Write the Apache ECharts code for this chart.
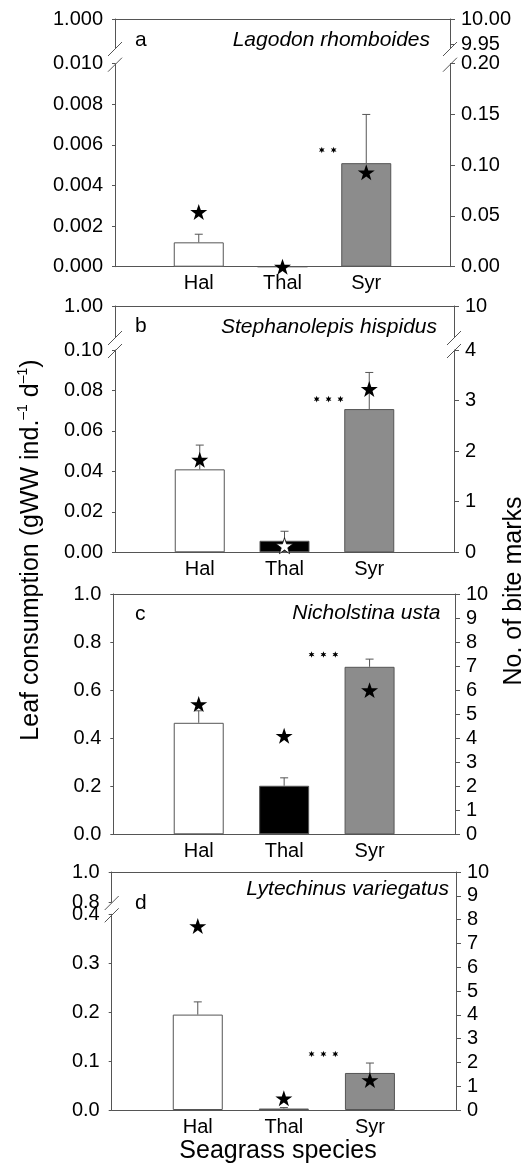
<!DOCTYPE html>
<html><head><meta charset="utf-8">
<script src="https://cdn.jsdelivr.net/npm/echarts@6/dist/echarts.min.js"></script>
<style>html,body{margin:0;padding:0;background:#fff}#c{width:527px;height:1164px}</style>
</head><body><div id="c"></div>
<script>
// ---------------- data ----------------
const categories = ['Hal', 'Thal', 'Syr'];
const panelLetters = ['a', 'b', 'c', 'd'];
const speciesNames = ['Lagodon rhomboides', 'Stephanolepis hispidus', 'Nicholstina usta', 'Lytechinus variegatus'];
// leaf consumption (gWW ind.-1 d-1): mean and mean+SE
const consA = [0.0012, 0, 0.0051];
const errA  = [0.0016, 0, 0.0075];
const consB = [0.041, 0.0057, 0.0708];
const errB  = [0.053, 0.0104, 0.0889];
const consC = [0.464, 0.202, 0.697];
const errC  = [0.514, 0.235, 0.729];
const consD = [0.195, 0.003, 0.0757];
const errD  = [0.221, 0.005, 0.096];
// no. of bite marks (right axis)
const biteA = [0.054, 0, 0.093];
const biteB = [1.83, 0.13, 3.23];
const biteC = [5.42, 4.1, 6.0];
const biteD = [7.73, 0.49, 1.26];
// significance marks [x position in category units, y in consumption units]
const sigCounts = [2, 3, 3, 3];
const sigPosA = [2.54, 0.00575];
const sigPosB = [2.52, 0.0757];
const sigPosC = [2.46, 0.748];
const sigPosD = [2.46, 0.1145];
// axis tick labels
const leftTicksLowA = [0, 0.010, 0.002];   // min, max, interval
const rightTicksLowA = [0, 0.20, 0.05];
const leftUpperA = [1.000];
const rightUpperA = [9.95, 10.00];
const leftTicksLowB = [0, 0.10, 0.02];
const rightTicksLowB = [0, 4, 1];
const leftUpperB = [1.00];
const rightUpperB = [10];
const leftTicksC = [0, 1.0, 0.2];
const rightTicksC = [0, 10, 1];
const leftTicksLowD = [0, 0.4, 0.1];
const leftUpperD = [0.8, 1.0];
const rightTicksD = [0, 10, 1];

// ---------------- styles / layout ----------------
const AX = '#555';
const FONT = '"Liberation Sans", Arial, Helvetica, sans-serif';
const barColors = ['#ffffff', '#000000', '#8c8c8c'];
const starColors = [['#000','#000','#000'], ['#000','#fff','#000'], ['#000','#000','#000'], ['#000','#000','#000']];
const STAR = 'path://M50,0 L61.8,35.1 L98.9,35.1 L68.9,57.6 L79.4,91.9 L50,70.6 L20.6,91.9 L31.1,57.6 L1.1,35.1 L38.2,35.1 Z';
function asteriskPath(n) {
  let d = '';
  for (let s = 0; s < n; s++) {
    const cx = s * 3.6;
    for (let k = 0; k < 12; k++) {
      const a = (-90 + k * 30) * Math.PI / 180;
      const r = k % 2 ? 0.45 : 1;
      d += (k === 0 ? 'M' : 'L') + (cx + r * Math.cos(a)).toFixed(3) + ',' + (r * Math.sin(a)).toFixed(3) + ' ';
    }
    d += 'Z ';
  }
  return 'path://' + d;
}

const panels = [
  {xl:115, xr:450, top:19, uBot:48, lTop:63.7, bot:266.7, left:leftTicksLowA, right:rightTicksLowA, lUp:leftUpperA, rUp:rightUpperA, lUpRange:[0,1], rUpRange:[9.942,10], lDec:3, rDec:2, cons:consA, err:errA, bite:biteA, sig:sigPosA, letterY:40, specX:430, specY:40},
  {xl:115, xr:454, top:306, uBot:337, lTop:350, bot:552.3, left:leftTicksLowB, right:rightTicksLowB, lUp:leftUpperB, rUp:rightUpperB, lUpRange:[0,1], rUpRange:[0,10], lDec:2, rDec:0, cons:consB, err:errB, bite:biteB, sig:sigPosB, letterY:326.7, specX:437, specY:326.7},
  {xl:113.3, xr:455, top:594, bot:834.3, left:leftTicksC, right:rightTicksC, lDec:1, rDec:0, cons:consC, err:errC, bite:biteC, sig:sigPosC, letterY:614, specX:440.5, specY:613.3},
  {xl:111.7, xr:456, top:872, uBot:902, lTop:914.3, bot:1110, left:leftTicksLowD, right:rightTicksD, lUp:leftUpperD, lUpRange:[0.8,1.0], rightFull:true, lDec:1, rDec:0, cons:consD, err:errD, bite:biteD, sig:sigPosD, letterY:903, specX:449, specY:889}
];

const grids = [], xAxes = [], yAxes = [], series = [], graphics = [];
function addGrid(xl, xr, t, b) { grids.push({left:xl, top:t, width:xr-xl, height:b-t}); return grids.length - 1; }
function addX(g, pos, showLine, showLabels) {
  xAxes.push({gridIndex:g, type:'value', min:0, max:4, position:pos,
    splitLine:{show:false}, axisTick:{show:false},
    axisLine:{show:showLine, onZero:false, lineStyle:{color:AX, width:1}},
    axisLabel: showLabels ? {show:true, customValues:[1,2,3], formatter:v => categories[v-1] || '', fontSize:20, fontFamily:FONT, color:'#000', margin:7} : {show:false}
  });
  return xAxes.length - 1;
}
function addY(g, pos, min, max, interval, dec, custom) {
  const o = {gridIndex:g, type:'value', position:pos, min:min, max:max,
    splitLine:{show:false},
    axisLine:{show:true, onZero:false, lineStyle:{color:AX, width:1}},
    axisTick:{show:true, length: pos === 'left' ? 3 : 5, lineStyle:{color:AX}},
    axisLabel:{fontSize:20, fontFamily:FONT, color:'#000', margin: pos === 'left' ? 12 : 11, formatter:v => Number(v).toFixed(dec)}
  };
  if (interval != null) o.interval = interval;
  if (custom) { o.axisLabel.customValues = custom; o.axisTick.customValues = custom; }
  yAxes.push(o); return yAxes.length - 1;
}
function slash(x, y) {
  graphics.push({type:'line', shape:{x1:x-7, y1:y+7, x2:x+7, y2:y-7}, style:{stroke:AX, lineWidth:1}, z:10});
}

panels.forEach((p, pi) => {
  const hasBreak = p.uBot != null;
  const lowTop = hasBreak ? p.lTop : p.top;
  const gLow = addGrid(p.xl, p.xr, lowTop, p.bot);
  const xLow = addX(gLow, 'bottom', true, true);
  const yL = addY(gLow, 'left', p.left[0], p.left[1], p.left[2], p.lDec);
  let xStar = xLow, yStar;
  if (!hasBreak) {
    addX(gLow, 'top', true, false);
    yStar = addY(gLow, 'right', p.right[0], p.right[1], p.right[2], p.rDec);
  } else {
    const gUp = addGrid(p.xl, p.xr, p.top, p.uBot);
    addX(gUp, 'top', true, false);
    addY(gUp, 'left', p.lUpRange[0], p.lUpRange[1], null, p.lDec, p.lUp);
    slash(p.xl, p.uBot + 1); slash(p.xl, p.lTop + 1);
    if (p.rightFull) {
      const gFull = addGrid(p.xl, p.xr, p.top, p.bot);
      xStar = addX(gFull, 'bottom', false, false);
      yStar = addY(gFull, 'right', p.right[0], p.right[1], p.right[2], p.rDec);
    } else {
      addY(gUp, 'right', p.rUpRange[0], p.rUpRange[1], null, p.rDec, p.rUp);
      yStar = addY(gLow, 'right', p.right[0], p.right[1], p.right[2], p.rDec);
      slash(p.xr, p.uBot + 1); slash(p.xr, p.lTop + 1);
    }
  }
  // bars
  series.push({type:'bar', xAxisIndex:xLow, yAxisIndex:yL, barWidth:50, z:2,
    data: categories.map((c, i) => ({value:[i+1, p.cons[i]], itemStyle:{color:barColors[i], borderColor:AX, borderWidth:1}})),
    emphasis:{disabled:true}, animation:false});
  // error bars (upper only)
  series.push({type:'custom', xAxisIndex:xLow, yAxisIndex:yL, z:3, animation:false,
    data: categories.map((c, i) => [i+1, p.cons[i], p.err[i]]).filter(d => d[2] > d[1]),
    renderItem: (params, api) => {
      const x = api.value(0), v = api.value(1), e = api.value(2);
      const p0 = api.coord([x, v]), p1 = api.coord([x, e]);
      return {type:'group', children:[
        {type:'line', shape:{x1:p0[0], y1:p0[1], x2:p1[0], y2:p1[1]}, style:{stroke:AX, lineWidth:1}},
        {type:'line', shape:{x1:p1[0]-4, y1:p1[1], x2:p1[0]+4, y2:p1[1]}, style:{stroke:AX, lineWidth:1}}
      ]};
    }});
  // bite marks stars
  series.push({type:'scatter', xAxisIndex:xStar, yAxisIndex:yStar, z:5, clip:false, animation:false,
    symbol:STAR, symbolSize:17, symbolKeepAspect:true,
    data: categories.map((c, i) => ({value:[i+1, p.bite[i]], itemStyle:{opacity:1, color:starColors[pi][i], borderColor:'#000', borderWidth: starColors[pi][i] === '#fff' ? 0.8 : 0}}))});
  // significance asterisks
  const n = sigCounts[pi];
  series.push({type:'scatter', xAxisIndex:xLow, yAxisIndex:yL, z:5, clip:false, animation:false,
    symbol:asteriskPath(n), symbolSize:[((n-1)*3.6+1.732)*3.3, 6.6],
    itemStyle:{color:'#000', opacity:1}, data:[p.sig]});
  // panel letter and species name
  graphics.push({type:'text', x:135, y:p.letterY, style:{text:panelLetters[pi], font:'21px ' + FONT, fill:'#000', textAlign:'left', textVerticalAlign:'middle'}});
  graphics.push({type:'text', x:p.specX, y:p.specY, style:{text:speciesNames[pi], font:'italic 21px ' + FONT, fill:'#000', textAlign:'right', textVerticalAlign:'middle'}});
});

// axis titles
graphics.push({type:'text', x:30, y:550, rotation:Math.PI/2,
  style:{text:'{n|Leaf consumption (gWW ind.}{s|–1}{n| d}{s|–1}{n|)}', textAlign:'center', textVerticalAlign:'middle',
    rich:{n:{fontSize:25, fontFamily:FONT, fill:'#000', lineHeight:28, verticalAlign:'bottom'}, s:{fontSize:14, fontFamily:FONT, fill:'#000', lineHeight:28, verticalAlign:'top', padding:[0,0,14,0]}}}});
graphics.push({type:'text', x:514, y:591, rotation:Math.PI/2,
  style:{text:'No. of bite marks', font:'25px ' + FONT, fill:'#000', textAlign:'center', textVerticalAlign:'middle'}});
graphics.push({type:'text', x:278, y:1151,
  style:{text:'Seagrass species', font:'25px ' + FONT, fill:'#000', textAlign:'center', textVerticalAlign:'middle'}});

const chart = echarts.init(document.getElementById('c'));
chart.setOption({animation:false, grid:grids, xAxis:xAxes, yAxis:yAxes, series:series, graphic:graphics});
</script></body></html>
